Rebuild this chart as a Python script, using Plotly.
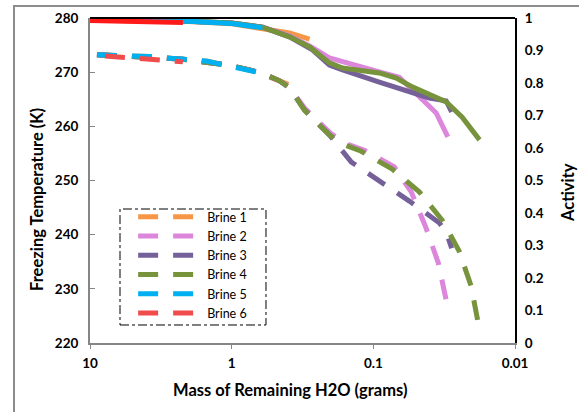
import plotly.graph_objects as go

names = ["Brine 1", "Brine 2", "Brine 3", "Brine 4", "Brine 5", "Brine 6"]
colors = ["#F79646", "#DC86DC", "#76609A", "#77933C", "#00B0F0", "#F04C4C"]
solid_colors = ["#F79646", "#DC86DC", "#76609A", "#77933C", "#00B0F0", "#FF1A1A"]

# Activity (solid lines, right axis)
act_mass = [
    [10, 2.21, 1.0, 0.606, 0.391, 0.282],
    [10, 2.21, 1.0, 0.606, 0.391, 0.282, 0.204, 0.165, 0.0908, 0.0656, 0.0474, 0.036, 0.0298],
    [10, 2.21, 1.0, 0.606, 0.391, 0.269, 0.204, 0.165, 0.0908, 0.0531, 0.0403, 0.0306, 0.028],
    [10, 2.21, 1.0, 0.606, 0.391, 0.282, 0.204, 0.165, 0.0908, 0.0689, 0.0531, 0.0403, 0.0306, 0.0236, 0.0178],
    [10, 2.21, 1.0, 0.75, 0.606],
    [10, 3.78, 2.21],
]
act_vals = [
    [0.993, 0.990, 0.982, 0.969, 0.954, 0.935],
    [0.994, 0.991, 0.985, 0.972, 0.945, 0.914, 0.877, 0.865, 0.834, 0.818, 0.757, 0.708, 0.634],
    [0.994, 0.991, 0.985, 0.972, 0.942, 0.902, 0.855, 0.840, 0.803, 0.772, 0.754, 0.745, 0.711],
    [0.994, 0.991, 0.985, 0.972, 0.942, 0.911, 0.862, 0.846, 0.831, 0.815, 0.788, 0.766, 0.742, 0.695, 0.625],
    [0.993, 0.991, 0.983, 0.977, 0.970],
    [0.992, 0.989, 0.986],
]

# Freezing temperature (dashed lines, left axis)
frz_mass = [
    [8.93, 3.78, 1.48, 0.74, 0.459, 0.32],
    [8.93, 2.21, 1.0, 0.606, 0.459, 0.391, 0.306, 0.198, 0.1525, 0.1156, 0.0711, 0.054, 0.0424, 0.0348, 0.0298],
    [8.93, 2.21, 1.0, 0.606, 0.459, 0.391, 0.306, 0.204, 0.143, 0.088, 0.0557, 0.0343, 0.0306, 0.028],
    [8.93, 2.21, 1.0, 0.606, 0.459, 0.391, 0.306, 0.204, 0.160, 0.1216, 0.0735, 0.0474, 0.0327, 0.0248, 0.0204, 0.0178],
    [8.93, 3.78, 1.48, 0.74, 0.606],
    [7.84, 3.78, 2.21],
]
frz_vals = [
    [273.2, 272.9, 272.0, 270.4, 268.4, 266.7],
    [273.2, 272.4, 271.2, 269.8, 268.4, 267.2, 263.4, 258.6, 256.7, 255.6, 252.5, 247.9, 241.2, 234.8, 226.5],
    [273.2, 272.4, 271.2, 269.8, 268.4, 267.1, 263.0, 258.4, 253.4, 249.7, 246.2, 242.2, 240.5, 237.5],
    [273.2, 272.4, 271.2, 269.8, 268.4, 267.1, 263.0, 258.4, 256.6, 255.4, 252.1, 247.9, 242.7, 237.0, 230.5, 222.4],
    [273.2, 272.9, 272.0, 270.4, 269.8],
    [273.0, 272.3, 271.9],
]

x_tickvals = [10, 1, 0.1, 0.01]
x_ticktext = ["10", "1", "0.1", "0.01"]

FONT = "Lato, 'Open Sans', sans-serif"
DASH = "20px,15px"

fig = go.Figure()
for i, n in enumerate(names):
    fig.add_trace(go.Scatter(
        x=frz_mass[i], y=frz_vals[i], mode="lines", name=n,
        line=dict(color=colors[i], width=5, dash=DASH),
        yaxis="y", showlegend=True))
    fig.add_trace(go.Scatter(
        x=act_mass[i], y=act_vals[i], mode="lines", name=n + " activity",
        line=dict(color=solid_colors[i], width=5),
        yaxis="y2", showlegend=False))

fig.update_layout(
    width=579, height=412,
    margin=dict(l=90, r=64, t=18, b=69),
    paper_bgcolor="white", plot_bgcolor="white",
    font=dict(family=FONT, color="black"),
    xaxis=dict(
        type="log", range=[1, -2], tickvals=x_tickvals, ticktext=x_ticktext,
        showgrid=False, zeroline=False, showline=True, linecolor="#868686", linewidth=2,
        ticks="outside", ticklen=4, tickcolor="#868686", ticklabelstandoff=3,
        tickfont=dict(size=13.5, family=FONT, weight="bold"),
        automargin=False,
    ),
    yaxis=dict(
        range=[220, 280], dtick=10, showgrid=False, zeroline=False,
        showline=True, linecolor="#868686", linewidth=2,
        ticks="inside", ticklen=5, tickcolor="#868686", ticklabelstandoff=7,
        tickfont=dict(size=13.5, family=FONT, weight="bold"),
        automargin=False,
    ),
    yaxis2=dict(
        range=[0, 1], dtick=0.1, overlaying="y", side="right",
        showgrid=False, zeroline=False, showline=True, linecolor="black", linewidth=2,
        ticks="", ticklabelstandoff=5,
        tickfont=dict(size=13.5, family=FONT, weight="bold"),
        automargin=False,
    ),
    legend=dict(
        x=0.1015, y=0.4338, xanchor="left", yanchor="top",
        bgcolor="rgba(0,0,0,0)", borderwidth=0,
        font=dict(size=12.5, family=FONT), itemwidth=64,
    ),
    annotations=[
        dict(text="<b>Mass of Remaining H2O (grams)</b>", xref="paper", yref="paper",
             x=0.4706, y=-0.1446, showarrow=False, font=dict(size=16.5, family=FONT),
             xanchor="center", yanchor="middle"),
        dict(text="<b>Freezing Temperature (K)</b>", xref="paper", yref="paper",
             x=-0.1247, y=0.44, textangle=-90, showarrow=False, font=dict(size=16.5, family=FONT),
             xanchor="center", yanchor="middle"),
        dict(text="<b>Activity</b>", xref="paper", yref="paper",
             x=1.1247, y=0.4646, textangle=-90, showarrow=False, font=dict(size=16.5, family=FONT),
             xanchor="center", yanchor="middle"),
    ],
    shapes=[
        dict(type="line", xref="paper", yref="paper", x0=0, x1=1, y0=1, y1=1,
             line=dict(color="black", width=2)),
        dict(type="rect", xref="paper", yref="paper", x0=0.0706, x1=0.4141, y0=0.0554, y1=0.4123,
             line=dict(color="black", width=1, dash="dashdot")),
        dict(type="rect", xref="paper", yref="paper", x0=-0.1788, x1=1.2, y0=-0.3, y1=1.037,
             line=dict(color="#8C8C8C", width=2)),
    ],
)

fig.write_html("out.html", config={"displayModeBar": False},
               post_script="document.body.style.margin='0px';document.body.style.overflow='hidden';")
